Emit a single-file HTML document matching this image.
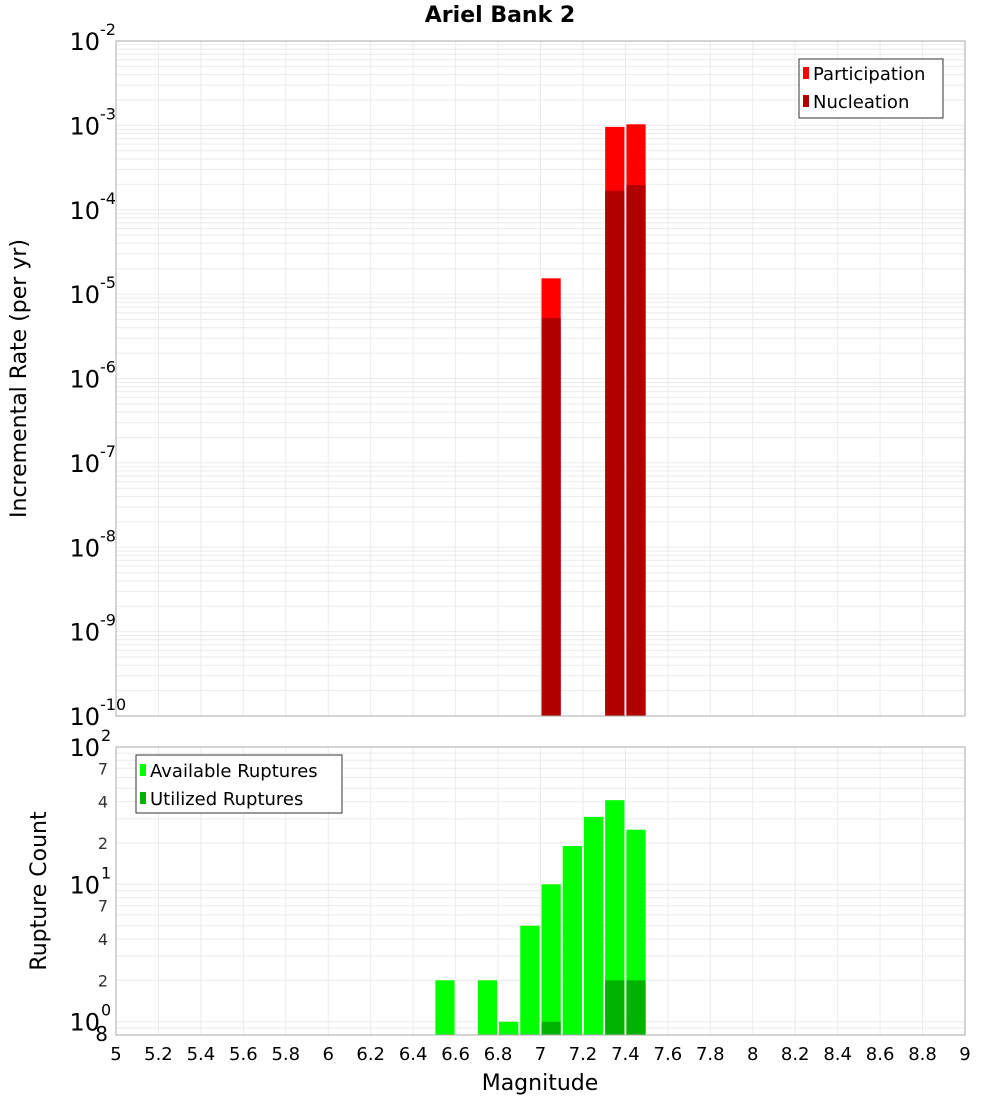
<!DOCTYPE html>
<html><head><meta charset="utf-8"><style>
body{margin:0;background:#fff;}
svg text{font-family:"DejaVu Sans","Liberation Sans",sans-serif;}
</style></head><body>
<svg id="chart" width="1000" height="1100" xmlns="http://www.w3.org/2000/svg">
<rect width="1000" height="1100" fill="#fff"/>
<text x="500" y="22" text-anchor="middle" font-size="22" font-weight="bold">Ariel Bank 2</text>
<g id="topg"></g><g id="botg"></g>
</svg>
<script>
const topMags=[7.05,7.35,7.45];
const participation=[1.54e-5,9.6e-4,1.03e-3];
const nucleation=[5.2e-6,1.68e-4,1.96e-4];
const botMags=[6.55,6.75,6.85,6.95,7.05,7.15,7.25,7.35,7.45];
const available=[2,2,1,5,10,19,31,41,25];
const utilizedMags=[7.05,7.35,7.45];
const utilized=[1,2,2];
const xTicks=[5,5.2,5.4,5.6,5.8,6,6.2,6.4,6.6,6.8,7,7.2,7.4,7.6,7.8,8,8.2,8.4,8.6,8.8,9];
const topExps=[-2,-3,-4,-5,-6,-7,-8,-9,-10];
const botMinorLabels=[2,4,7,20,40,70];

const NS="http://www.w3.org/2000/svg";
const L=116,R=965;
const xs=v=>L+(v-5)/4*(R-L);
const T0=41,T1=716;
const yT=v=>T0+(-2-Math.log10(v))/8*(T1-T0);
const B0=747,B1=1035,bmin=0.8,bmax=100;
const yB=v=>B0+(Math.log10(bmax)-Math.log10(v))/(Math.log10(bmax)-Math.log10(bmin))*(B1-B0);
function mk(p,tag,a,txt){const e=document.createElementNS(NS,tag);for(const k in a)e.setAttribute(k,a[k]);if(txt!==undefined)e.textContent=txt;p.appendChild(e);return e;}
const topG=document.getElementById('topg'),botG=document.getElementById('botg');

for(let d=-10;d<-2;d++)for(let m=1;m<10;m++){const y=yT(m*Math.pow(10,d));
 const g=mk(topG,'line',{x1:L,x2:R,y1:y,y2:y,stroke:'#ebebeb','stroke-width':1});
 
 }
xTicks.forEach(t=>{const g=mk(topG,'line',{x1:xs(t),x2:xs(t),y1:T0,y2:T1,stroke:'#ebebeb'});
 
 
 const h=mk(botG,'line',{x1:xs(t),x2:xs(t),y1:B0,y2:B1,stroke:'#ebebeb'});
 
 });
topMags.forEach((m,i)=>{
 const x0=xs(m-0.05)+1,w=xs(m+0.05)-xs(m-0.05)-2;
 const b=mk(topG,'rect',{x:x0,y:yT(participation[i]),width:w,height:T1-yT(participation[i]),fill:'#ff0000'});
 
 
 const n=mk(topG,'rect',{x:x0,y:yT(nucleation[i]),width:w,height:T1-yT(nucleation[i]),fill:'#b20000'});
 
 });
const tb=mk(topG,'rect',{x:L,y:T0,width:R-L,height:T1-T0,fill:'none',stroke:'#aaa'});


topExps.forEach(e=>{const y=yT(Math.pow(10,e));
 const t=mk(topG,'text',{x:100,y:y+9,'text-anchor':'end','font-size':24},'10');
 
 
 const s=mk(topG,'text',{x:100,y:y-6,'font-size':16},String(e));
 
 });
const yt=mk(topG,'text',{x:0,y:0,'font-size':22,'text-anchor':'middle',transform:`translate(26,${(T0+T1)/2}) rotate(-90)`},'Incremental Rate (per yr)');


const lg=mk(topG,'g',{});


mk(lg,'rect',{x:799,y:59,width:144,height:59,fill:'#fff',stroke:'#333'});
mk(lg,'rect',{x:803,y:67,width:6,height:12,fill:'#ff0000'});
mk(lg,'text',{x:813,y:80,'font-size':18},'Participation');
mk(lg,'rect',{x:803,y:95,width:6,height:12,fill:'#b20000'});
mk(lg,'text',{x:813,y:108,'font-size':18},'Nucleation');

for(let d=-1;d<2;d++)for(let m=1;m<10;m++){const v=m*Math.pow(10,d);if(v<bmin||v>bmax)continue;
 const y=yB(v);const g=mk(botG,'line',{x1:L,x2:R,y1:y,y2:y,stroke:'#ebebeb'});
 
 }
botMags.forEach((m,i)=>{const x0=xs(m-0.05)+1,w=xs(m+0.05)-xs(m-0.05)-2;
 const b=mk(botG,'rect',{x:x0,y:yB(available[i]),width:w,height:B1-yB(available[i]),fill:'#00ff00'});
 
 });
utilizedMags.forEach((m,i)=>{const x0=xs(m-0.05)+1,w=xs(m+0.05)-xs(m-0.05)-2;
 const b=mk(botG,'rect',{x:x0,y:yB(utilized[i]),width:w,height:B1-yB(utilized[i]),fill:'#00b200'});
 
 });
const bb=mk(botG,'rect',{x:L,y:B0,width:R-L,height:B1-B0,fill:'none',stroke:'#aaa'});


[0,1,2].forEach(e=>{const y=yB(Math.pow(10,e));
 const t=mk(botG,'text',{x:100,y:y+9,'text-anchor':'end','font-size':24},'10');
 
 
 const s=mk(botG,'text',{x:101,y:y-6,'font-size':16},String(e));
 
 });
botMinorLabels.forEach(v=>{const t=mk(botG,'text',{x:108,y:yB(v)+6,'text-anchor':'end','font-size':16,fill:'#333'},String(v).charAt(0));
 
 });
const e8=mk(botG,'text',{x:108,y:1041,'text-anchor':'end','font-size':20},'8');


const by=mk(botG,'text',{x:0,y:0,'font-size':22,'text-anchor':'middle',transform:`translate(46,${(B0+B1)/2}) rotate(-90)`},'Rupture Count');


xTicks.forEach(t=>{const s=mk(botG,'text',{x:xs(t),y:1060,'text-anchor':'middle','font-size':18},String(t));
 
 });
const xt=mk(botG,'text',{x:540,y:1090,'text-anchor':'middle','font-size':22},'Magnitude');


const lg2=mk(botG,'g',{});


mk(lg2,'rect',{x:136,y:755,width:206,height:58,fill:'#fff',stroke:'#333'});
mk(lg2,'rect',{x:140,y:764,width:6,height:12,fill:'#00ff00'});
mk(lg2,'text',{x:150,y:777,'font-size':18},'Available Ruptures');
mk(lg2,'rect',{x:140,y:792,width:6,height:12,fill:'#00b200'});
mk(lg2,'text',{x:150,y:805,'font-size':18},'Utilized Ruptures');
</script>
</body></html>
